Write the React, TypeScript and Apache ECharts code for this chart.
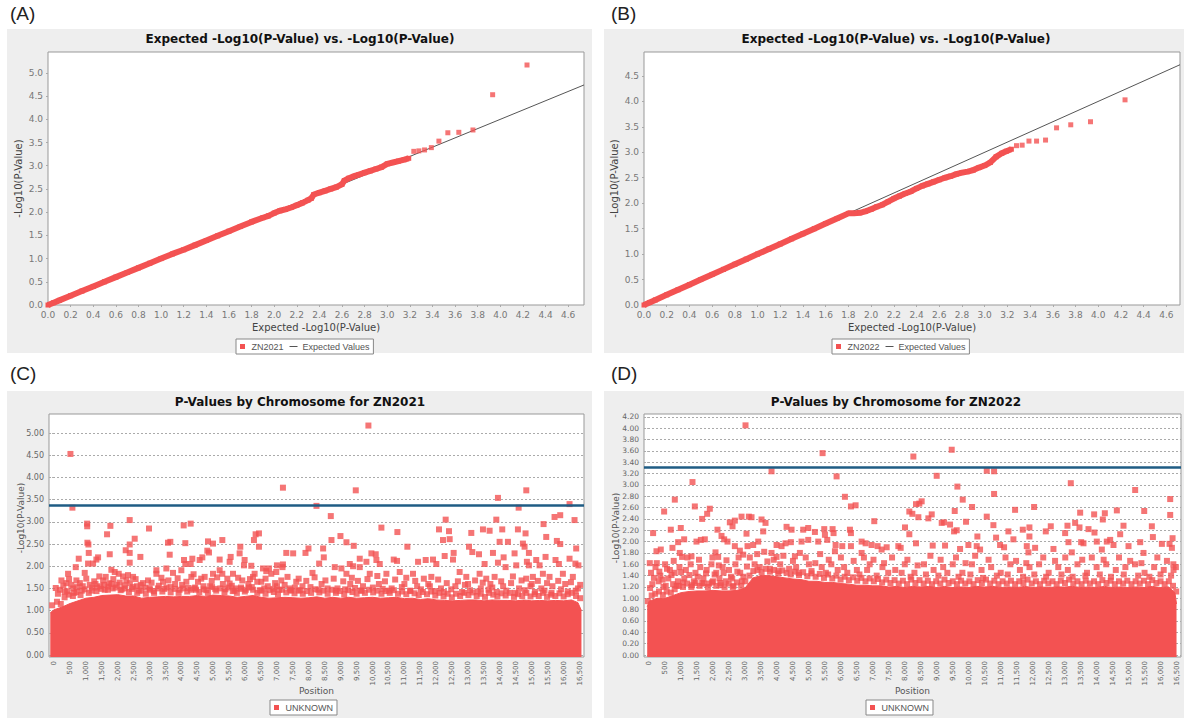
import React, { useEffect, useRef } from 'react';
import * as echarts from 'echarts';

const RED = '#f35252';
const LINE_GRAY = '#555555';
const THRESH = '#1f5c84';
const FONT = 'DejaVu Sans';
const SMALL_FONT = 'Liberation Sans';

// ---------- tick labels ----------
const qqXTicks = [0, 0.2, 0.4, 0.6, 0.8, 1.0, 1.2, 1.4, 1.6, 1.8, 2.0, 2.2, 2.4, 2.6, 2.8, 3.0, 3.2, 3.4, 3.6, 3.8, 4.0, 4.2, 4.4, 4.6];
const qqYTicksA = [0, 0.5, 1.0, 1.5, 2.0, 2.5, 3.0, 3.5, 4.0, 4.5, 5.0];
const qqYTicksB = [0, 0.5, 1.0, 1.5, 2.0, 2.5, 3.0, 3.5, 4.0, 4.5];
const posTicks = [0, 500, 1000, 1500, 2000, 2500, 3000, 3500, 4000, 4500, 5000, 5500, 6000, 6500, 7000, 7500, 8000, 8500, 9000, 9500, 10000, 10500, 11000, 11500, 12000, 12500, 13000, 13500, 14000, 14500, 15000, 15500, 16000, 16500];
const pvTicksC = [0, 0.5, 1.0, 1.5, 2.0, 2.5, 3.0, 3.5, 4.0, 4.5, 5.0];
const pvTicksD = [0, 0.2, 0.4, 0.6, 0.8, 1.0, 1.2, 1.4, 1.6, 1.8, 2.0, 2.2, 2.4, 2.6, 2.8, 3.0, 3.2, 3.4, 3.6, 3.8, 4.0, 4.2];

// ---------- QQ plot (A) ZN2021 ----------
const qqDenseA = [
  [0, 0], [0.05, 0.05], [0.1, 0.1], [0.2, 0.2], [0.3, 0.3], [0.4, 0.4], [0.5, 0.5], [0.6, 0.6], [0.7, 0.7], [0.8, 0.8],
  [0.9, 0.9], [1.0, 1.0], [1.1, 1.1], [1.2, 1.19], [1.3, 1.29], [1.4, 1.39], [1.5, 1.49], [1.6, 1.59], [1.7, 1.69], [1.8, 1.79],
  [1.9, 1.88], [1.95, 1.92], [2.0, 1.98], [2.05, 2.03], [2.1, 2.06], [2.15, 2.1], [2.2, 2.15], [2.25, 2.2], [2.3, 2.26], [2.33, 2.3],
  [2.35, 2.38], [2.4, 2.42], [2.45, 2.46], [2.5, 2.5], [2.55, 2.54], [2.6, 2.6], [2.62, 2.68], [2.66, 2.73], [2.7, 2.77], [2.75, 2.81],
  [2.8, 2.85], [2.85, 2.89], [2.9, 2.93], [2.95, 2.97], [3.0, 3.04], [3.05, 3.07], [3.1, 3.1], [3.15, 3.13], [3.19, 3.16]
];
const qqTailA = [
  [3.235, 3.31], [3.28, 3.32], [3.33, 3.34], [3.39, 3.39], [3.457, 3.53], [3.536, 3.71], [3.633, 3.72], [3.758, 3.77], [3.932, 4.53], [4.236, 5.17]
];

// ---------- QQ plot (B) ZN2022 ----------
const qqDenseB = [
  [0, 0], [0.05, 0.05], [0.1, 0.1], [0.2, 0.2], [0.3, 0.3], [0.4, 0.4], [0.5, 0.5], [0.6, 0.6], [0.7, 0.7], [0.8, 0.8],
  [0.9, 0.9], [1.0, 1.0], [1.1, 1.1], [1.2, 1.2], [1.3, 1.3], [1.4, 1.4], [1.5, 1.5], [1.6, 1.6], [1.7, 1.7], [1.8, 1.8],
  [1.85, 1.8], [1.9, 1.81], [1.95, 1.84], [2.0, 1.88], [2.05, 1.93], [2.1, 1.97], [2.15, 2.03], [2.2, 2.09], [2.25, 2.14], [2.3, 2.19],
  [2.35, 2.23], [2.4, 2.29], [2.45, 2.34], [2.5, 2.38], [2.55, 2.42], [2.6, 2.46], [2.65, 2.5], [2.7, 2.53], [2.75, 2.57], [2.8, 2.6],
  [2.85, 2.62], [2.9, 2.65], [2.95, 2.7], [3.0, 2.74], [3.05, 2.8], [3.1, 2.91], [3.15, 2.98], [3.19, 3.02], [3.235, 3.06]
];
const qqTailB = [
  [3.28, 3.13], [3.33, 3.14], [3.39, 3.22], [3.457, 3.22], [3.536, 3.24], [3.633, 3.48], [3.758, 3.54], [3.932, 3.6], [4.236, 4.03]
];

// ---------- Manhattan (C) ZN2021 ----------
const bandC = [
  [-120, 0.95], [0, 1.02], [250, 1.08], [500, 1.16], [750, 1.22], [1000, 1.28], [1250, 1.3], [1500, 1.34], [1750, 1.35], [2000, 1.36],
  [2250, 1.33], [2500, 1.33], [2750, 1.28], [3000, 1.3], [3250, 1.31], [3500, 1.32], [3750, 1.31], [4000, 1.32], [4250, 1.32], [4500, 1.34],
  [4750, 1.32], [5000, 1.35], [5250, 1.34], [5500, 1.33], [5750, 1.3], [6000, 1.32], [6250, 1.34], [6500, 1.3], [6750, 1.28], [7000, 1.29],
  [7250, 1.3], [7500, 1.29], [7750, 1.28], [8000, 1.29], [8250, 1.31], [8500, 1.28], [8750, 1.3], [9000, 1.28], [9250, 1.3], [9500, 1.28],
  [9750, 1.29], [10000, 1.3], [10250, 1.28], [10500, 1.29], [10750, 1.3], [11000, 1.27], [11250, 1.28], [11500, 1.25], [11750, 1.27], [12000, 1.24],
  [12250, 1.23], [12500, 1.22], [12750, 1.23], [13000, 1.24], [13250, 1.24], [13500, 1.22], [13750, 1.24], [14000, 1.23], [14250, 1.23], [14500, 1.22],
  [14750, 1.24], [15000, 1.22], [15250, 1.23], [15500, 1.22], [15750, 1.23], [16000, 1.22], [16250, 1.24], [16450, 1.18], [16560, 1.0]
];
const pointsC = [
  [513, 4.53], [575, 3.32], [7186, 3.77], [1036, 2.96], [1040, 2.9], [1768, 2.91], [2374, 3.04], [2981, 2.85], [4069, 2.92], [4289, 2.96],
  [1663, 2.72], [1046, 2.53], [1077, 2.49], [2374, 2.49], [2531, 2.62], [3577, 2.53], [3650, 2.55], [4121, 2.52], [4833, 2.56], [4990, 2.51],
  [5283, 2.59], [5847, 2.44], [6276, 2.59], [6328, 2.72], [6433, 2.74], [6433, 2.44], [7291, 2.3], [1088, 2.3], [1747, 2.27], [2249, 2.36],
  [2374, 2.3], [2374, 2.08], [2709, 2.21], [3630, 2.26], [4079, 2.14], [4121, 2.05], [4289, 2.05], [4341, 2.17], [4571, 2.14], [4655, 2.2],
  [4864, 2.31], [4812, 2.35], [5199, 2.15], [5513, 2.1], [5545, 2.21], [5826, 2.29], [5983, 2.14], [5962, 2.02], [6192, 2.01], [6559, 1.95],
  [6663, 1.89], [6747, 1.95], [6998, 2.02], [7186, 2.04], [774, 2.17], [1067, 2.06], [1224, 2.06], [1328, 2.15], [1381, 2.2], [680, 1.98],
  [439, 1.83], [962, 1.85], [1798, 1.92], [1904, 1.87], [2030, 1.83], [2165, 1.77], [2322, 1.8], [2479, 1.76], [2950, 1.68], [3212, 1.83],
  [3212, 1.91], [3525, 1.95], [3734, 1.85], [3996, 1.91], [4310, 1.76], [4728, 1.76], [4990, 1.83], [5199, 1.91], [5283, 1.83], [5618, 1.83],
  [6245, 1.76], [6297, 1.83], [6820, 1.83], [6977, 1.87], [52, 1.51], [387, 1.62], [335, 1.42], [230, 1.68], [701, 1.68], [1538, 1.68],
  [1621, 1.76], [2270, 1.68], [2793, 1.62], [3420, 1.65], [4153, 1.65], [4519, 1.65], [5513, 1.61], [5910, 1.68], [6506, 1.65], [7134, 1.68],
  [7604, 1.65], [9870, 5.17], [9473, 3.71], [8239, 3.36], [8689, 3.13], [10278, 2.87], [10780, 2.77], [11093, 2.44], [8992, 2.68], [9180, 2.54],
  [9410, 2.46], [9598, 2.17], [9964, 2.29], [10100, 2.27], [8448, 2.4], [8469, 2.2], [8710, 2.59], [7988, 2.4], [8323, 2.06], [7894, 2.3],
  [7507, 2.29], [7173, 1.98], [13938, 3.54], [14828, 3.71], [14588, 3.32], [16186, 3.4], [13886, 3.05], [12296, 3.05], [12401, 2.79], [12422, 2.61],
  [12212, 2.59], [12087, 2.83], [13101, 2.75], [13467, 2.83], [13676, 2.8], [14073, 2.83], [14565, 2.83], [14805, 2.74], [14722, 2.51], [14774, 2.44],
  [14910, 2.3], [15370, 2.95], [15454, 2.66], [15715, 3.11], [15893, 3.15], [16343, 3.04], [15788, 2.57], [15893, 2.5], [16395, 2.4], [13990, 2.55],
  [14251, 2.55], [13028, 2.44], [13133, 2.32], [13781, 2.3], [12547, 2.3], [12526, 2.15], [12265, 2.23], [11899, 2.15], [12003, 2.05], [11669, 2.14],
  [11429, 2.1], [10665, 2.15], [10769, 2.12], [10121, 2.14], [10226, 2.05], [9807, 2.1], [9598, 1.98], [9285, 2.05], [9389, 2.0], [9023, 1.95],
  [8814, 1.98], [8114, 1.85], [13342, 2.27], [13519, 2.05], [13938, 2.08], [14116, 2.2], [14178, 1.98], [14460, 2.29], [14513, 2.02], [14847, 2.1],
  [14910, 2.02], [15140, 2.14], [15245, 2.02], [15433, 2.21], [15746, 2.14], [15851, 2.05], [16186, 2.17], [16370, 2.06], [16464, 2.02], [13362, 1.83],
  [13571, 1.72], [13833, 1.76], [14408, 1.77], [14826, 1.72], [15035, 1.76], [15349, 1.83], [15558, 1.76], [15977, 1.83], [16290, 1.76], [11846, 1.76],
  [11270, 1.83], [10853, 1.87], [10435, 1.83], [9912, 1.83], [9180, 1.83], [12735, 1.87], [12944, 1.76], [7800, 1.55], [8400, 1.6], [8900, 1.5],
  [9300, 1.6], [9700, 1.55], [10200, 1.6], [10600, 1.5], [11000, 1.6], [11400, 1.55], [11750, 1.6], [12150, 1.5], [12600, 1.55], [13000, 1.6],
  [13400, 1.5], [13700, 1.6], [14100, 1.55], [14600, 1.5], [15000, 1.6], [15300, 1.5], [15650, 1.55], [16050, 1.6], [16450, 1.5], [600, 1.5],
  [900, 1.55], [1300, 1.6], [1800, 1.6], [2600, 1.55], [3000, 1.5], [3800, 1.6], [4400, 1.5], [4900, 1.55], [5300, 1.6], [5700, 1.5],
  [6100, 1.6], [6600, 1.5], [7000, 1.55], [7400, 1.5]
];
const edgePointsC = [
  [120, 1.38], [180, 1.47], [290, 1.56], [410, 1.44], [470, 1.71], [540, 1.58], [630, 1.4], [720, 1.53], [810, 1.62], [870, 1.45],
  [1010, 1.72], [1120, 1.58], [1180, 1.45], [1260, 1.66], [1350, 1.52], [1420, 1.77], [1480, 1.49], [1570, 1.58], [1690, 1.47], [1730, 1.62],
  [1860, 1.71], [1930, 1.52], [2060, 1.63], [2120, 1.48], [2210, 1.57], [2380, 1.62], [2440, 1.49], [2560, 1.71], [2660, 1.45], [2720, 1.58],
  [2870, 1.52], [3060, 1.63], [3130, 1.44], [3290, 1.56], [3370, 1.74], [3460, 1.49], [3590, 1.68], [3660, 1.53], [3880, 1.73], [3940, 1.47],
  [4020, 1.58], [4210, 1.51], [4380, 1.82], [4460, 1.47], [4620, 1.72], [4690, 1.55], [4780, 1.46], [4950, 1.67], [5060, 1.49], [5120, 1.75],
  [5380, 1.48], [5440, 1.72], [5580, 1.56], [5660, 1.45], [5780, 1.74], [5870, 1.52], [6020, 1.47], [6150, 1.71], [6210, 1.53], [6380, 1.65],
  [6460, 1.46], [6640, 1.72], [6710, 1.55], [6880, 1.49], [6940, 1.62], [7060, 1.47], [7240, 1.58], [7330, 1.76], [7450, 1.45], [7560, 1.52],
  [7680, 1.72], [7740, 1.46], [7920, 1.67], [8050, 1.53], [8180, 1.75], [8300, 1.47], [8520, 1.68], [8590, 1.5], [8780, 1.72], [8850, 1.45],
  [9080, 1.66], [9140, 1.48], [9350, 1.74], [9450, 1.51], [9540, 1.67], [9660, 1.45], [9840, 1.71], [10010, 1.52], [10150, 1.78], [10320, 1.49],
  [10390, 1.66], [10520, 1.45], [10710, 1.7], [10920, 1.53], [11060, 1.74], [11180, 1.45], [11340, 1.67], [11520, 1.48], [11610, 1.72], [11800, 1.55],
  [11960, 1.44], [12060, 1.7], [12240, 1.42], [12330, 1.62], [12470, 1.48], [12680, 1.66], [12810, 1.42], [12900, 1.58], [13060, 1.46], [13220, 1.68],
  [13300, 1.43], [13460, 1.63], [13640, 1.47], [13760, 1.52], [13900, 1.42], [14040, 1.66], [14200, 1.45], [14350, 1.62], [14480, 1.4], [14680, 1.68],
  [14780, 1.46], [14960, 1.55], [15100, 1.42], [15190, 1.67], [15400, 1.45], [15480, 1.62], [15620, 1.4], [15830, 1.67], [15920, 1.48], [16130, 1.43],
  [16230, 1.64], [16380, 1.45], [16520, 1.58]
];
const rimPointsC = [
  [-60, 1.12], [90, 1.2], [210, 1.15], [330, 1.3], [460, 1.36], [590, 1.33], [700, 1.42], [830, 1.35], [960, 1.48], [1090, 1.4],
  [1200, 1.52], [1330, 1.44], [1450, 1.55], [1590, 1.47], [1700, 1.54], [1840, 1.5], [1970, 1.58], [2090, 1.46], [2230, 1.5], [2350, 1.42],
  [2480, 1.53], [2610, 1.4], [2740, 1.45], [2880, 1.38], [3010, 1.47], [3140, 1.4], [3260, 1.5], [3400, 1.43], [3530, 1.52], [3660, 1.41],
  [3790, 1.49], [3910, 1.4], [4050, 1.5], [4180, 1.43], [4300, 1.47], [4430, 1.52], [4560, 1.42], [4700, 1.48], [4830, 1.4], [4960, 1.53],
  [5090, 1.45], [5220, 1.5], [5350, 1.42], [5480, 1.52], [5610, 1.44], [5740, 1.4], [5860, 1.49], [5990, 1.43], [6120, 1.52], [6250, 1.47],
  [6380, 1.4], [6510, 1.45], [6640, 1.38], [6770, 1.46], [6900, 1.42], [7030, 1.37], [7160, 1.47], [7290, 1.41], [7420, 1.46], [7550, 1.39],
  [7680, 1.45], [7810, 1.38], [7940, 1.44], [8070, 1.4], [8200, 1.48], [8330, 1.41], [8460, 1.45], [8590, 1.38], [8720, 1.47], [8850, 1.4],
  [8980, 1.44], [9110, 1.37], [9240, 1.46], [9370, 1.42], [9500, 1.38], [9630, 1.45], [9760, 1.4], [9890, 1.47], [10020, 1.41], [10150, 1.45],
  [10280, 1.38], [10410, 1.44], [10540, 1.4], [10670, 1.46], [10800, 1.38], [10930, 1.43], [11060, 1.37], [11190, 1.44], [11320, 1.39], [11450, 1.35],
  [11580, 1.42], [11710, 1.37], [11840, 1.43], [11970, 1.34], [12100, 1.4], [12230, 1.32], [12360, 1.38], [12490, 1.3], [12620, 1.38], [12750, 1.33],
  [12880, 1.4], [13010, 1.35], [13140, 1.41], [13270, 1.33], [13400, 1.38], [13530, 1.31], [13660, 1.4], [13790, 1.36], [13920, 1.32], [14050, 1.39],
  [14180, 1.34], [14310, 1.4], [14440, 1.31], [14570, 1.37], [14700, 1.33], [14830, 1.4], [14960, 1.32], [15090, 1.37], [15220, 1.33], [15350, 1.4],
  [15480, 1.31], [15610, 1.36], [15740, 1.33], [15870, 1.39], [16000, 1.32], [16130, 1.37], [16260, 1.4], [16390, 1.33], [16520, 1.28]
];
const thresholdC = 3.37;

// ---------- Manhattan (D) ZN2022 ----------
const bandD = [
  [-60, 0.85], [0, 0.95], [250, 1.0], [500, 1.0], [750, 1.05], [1000, 1.1], [1250, 1.12], [1500, 1.13], [1750, 1.13], [2000, 1.14],
  [2250, 1.13], [2500, 1.13], [2750, 1.14], [3000, 1.18], [3250, 1.36], [3500, 1.4], [3750, 1.4], [4000, 1.38], [4250, 1.36], [4500, 1.34],
  [4750, 1.33], [5000, 1.3], [5250, 1.3], [5500, 1.28], [5750, 1.28], [6000, 1.26], [6250, 1.25], [6500, 1.23], [6750, 1.23], [7000, 1.22],
  [7250, 1.22], [7500, 1.2], [7750, 1.21], [8000, 1.19], [8250, 1.21], [8500, 1.2], [8750, 1.21], [9000, 1.19], [9250, 1.21], [9500, 1.19],
  [9750, 1.2], [10000, 1.19], [10250, 1.21], [10500, 1.2], [10750, 1.21], [11000, 1.19], [11250, 1.2], [11500, 1.19], [11750, 1.21], [12000, 1.19],
  [12250, 1.2], [12500, 1.19], [12750, 1.2], [13000, 1.2], [13250, 1.21], [13500, 1.19], [13750, 1.2], [14000, 1.19], [14250, 1.21], [14500, 1.19],
  [14750, 1.2], [15000, 1.19], [15250, 1.2], [15500, 1.19], [15750, 1.21], [16000, 1.19], [16250, 1.2], [16450, 1.1], [16500, 0.9]
];
const pointsD = [
  [3016, 4.05], [5427, 3.56], [3830, 3.24], [5865, 3.15], [1357, 3.05], [6126, 2.79], [804, 2.74], [470, 2.53], [6314, 2.62], [6460, 2.64],
  [1430, 2.62], [7044, 2.36], [678, 2.21], [991, 2.24], [1659, 2.4], [1816, 2.49], [1899, 2.58], [2525, 2.34], [2609, 2.27], [2682, 2.37],
  [2891, 2.44], [3121, 2.44], [3204, 2.43], [3047, 2.14], [3517, 2.39], [3642, 2.33], [3569, 2.18], [4300, 2.26], [4456, 2.21], [4821, 2.21],
  [4978, 2.24], [5187, 2.17], [5479, 2.22], [5500, 2.12], [5740, 2.22], [5771, 2.15], [6283, 2.21], [6314, 2.15], [2139, 2.21], [2265, 2.1],
  [2348, 2.04], [2452, 2.0], [125, 2.15], [1096, 2.04], [908, 1.99], [1482, 2.0], [1618, 2.03], [1743, 2.04], [730, 1.89], [230, 1.83],
  [365, 1.86], [21, 1.62], [4978, 2.03], [4769, 2.0], [5291, 2.0], [5573, 2.03], [5834, 1.94], [6043, 1.92], [6314, 1.92], [6648, 2.0],
  [6773, 1.97], [6961, 1.94], [7149, 1.92], [7274, 1.86], [3987, 1.94], [4143, 1.92], [4268, 1.97], [4435, 1.99], [3079, 1.92], [3256, 1.94],
  [3413, 2.0], [2682, 1.92], [2839, 1.84], [2943, 1.77], [3830, 1.8], [3987, 1.73], [4561, 1.74], [4717, 1.8], [5813, 1.83], [6648, 1.8],
  [960, 1.8], [1033, 1.73], [1325, 1.74], [2077, 1.81], [2160, 1.73], [9467, 3.62], [8267, 3.5], [10563, 3.25], [10792, 3.24], [8997, 3.16],
  [9644, 2.97], [13192, 3.03], [15206, 2.91], [10792, 2.84], [9811, 2.74], [16302, 2.75], [8350, 2.66], [8454, 2.67], [8527, 2.71], [10103, 2.61],
  [11449, 2.56], [12044, 2.61], [8141, 2.53], [8235, 2.49], [8423, 2.43], [8736, 2.41], [8841, 2.48], [9561, 2.54], [9915, 2.35], [10563, 2.44],
  [10771, 2.29], [13485, 2.51], [13923, 2.48], [14257, 2.5], [14194, 2.39], [14633, 2.55], [15489, 2.54], [16302, 2.47], [8006, 2.25], [8141, 2.13],
  [9154, 2.33], [9227, 2.34], [9415, 2.3], [9540, 2.18], [9623, 2.2], [10855, 2.07], [10270, 2.09], [11241, 2.18], [11397, 2.04], [11690, 2.21],
  [11898, 2.25], [11898, 2.09], [12410, 2.18], [12566, 2.27], [13015, 2.15], [13088, 2.28], [13328, 2.33], [13464, 2.25], [13746, 2.22], [13933, 2.16],
  [14319, 2.0], [14424, 2.03], [14737, 2.13], [14841, 2.28], [15363, 1.99], [15467, 1.8], [15728, 2.27], [15760, 2.08], [16042, 1.96], [16282, 1.96],
  [16355, 1.89], [16376, 2.06], [13119, 1.99], [13224, 1.81], [12650, 1.87], [12076, 1.89], [11815, 1.92], [11867, 1.81], [10980, 1.94], [11105, 1.9],
  [10249, 1.92], [10354, 1.86], [9989, 1.94], [9728, 1.87], [9258, 1.93], [8872, 1.93], [8350, 1.97], [7797, 1.92], [7870, 1.89], [7432, 1.9],
  [13516, 1.99], [13589, 1.97], [14006, 2.0], [14163, 1.86], [14528, 1.94], [14998, 1.92], [16407, 1.5], [60, 1.45], [200, 1.55], [350, 1.4],
  [500, 1.6], [650, 1.5], [800, 1.45], [950, 1.55], [1150, 1.5], [1300, 1.6], [1450, 1.45], [1600, 1.55], [1800, 1.5], [1950, 1.6],
  [2100, 1.45], [2300, 1.55], [2500, 1.5], [2700, 1.6], [2850, 1.45], [3300, 1.6], [3700, 1.65], [4100, 1.6], [4600, 1.55], [5000, 1.6],
  [5400, 1.55], [5700, 1.6], [6100, 1.55], [6500, 1.5], [6900, 1.6], [7300, 1.55], [7700, 1.5], [8000, 1.6], [8300, 1.45], [8600, 1.6],
  [8900, 1.5], [9200, 1.55], [9500, 1.6], [9800, 1.45], [10100, 1.6], [10400, 1.5], [10700, 1.55], [11000, 1.45], [11300, 1.6], [11600, 1.5],
  [11900, 1.55], [12200, 1.6], [12500, 1.45], [12800, 1.55], [13100, 1.5], [13400, 1.6], [13700, 1.45], [14000, 1.55], [14300, 1.6], [14600, 1.5],
  [14900, 1.55], [15200, 1.6], [15500, 1.45], [15800, 1.55], [16100, 1.5], [16400, 1.6], [100, 1.25], [300, 1.3], [450, 1.2], [600, 1.35],
  [750, 1.25], [900, 1.3], [1100, 1.35], [1400, 1.3], [1700, 1.35], [2000, 1.3], [2200, 1.35], [2400, 1.3], [2600, 1.35], [2900, 1.3]
];
const edgePointsD = [
  [30, 1.18], [150, 1.36], [240, 1.62], [320, 1.47], [420, 1.33], [520, 1.22], [560, 1.52], [700, 1.41], [770, 1.66], [860, 1.22],
  [1000, 1.46], [1060, 1.28], [1200, 1.72], [1260, 1.41], [1340, 1.23], [1520, 1.38], [1560, 1.68], [1660, 1.27], [1780, 1.44], [1880, 1.26],
  [1980, 1.72], [2050, 1.42], [2180, 1.58], [2240, 1.23], [2330, 1.45], [2420, 1.67], [2560, 1.38], [2640, 1.22], [2760, 1.47], [2800, 1.72],
  [2950, 1.38], [3060, 1.56], [3150, 1.72], [3380, 1.78], [3460, 1.55], [3600, 1.82], [3780, 1.52], [3900, 1.68], [4050, 1.48], [4200, 1.75],
  [4380, 1.52], [4500, 1.66], [4680, 1.45], [4900, 1.72], [5080, 1.48], [5200, 1.62], [5350, 1.78], [5530, 1.45], [5620, 1.68], [5900, 1.5],
  [6000, 1.72], [6200, 1.45], [6400, 1.66], [6580, 1.42], [6720, 1.72], [6820, 1.5], [7020, 1.68], [7120, 1.4], [7350, 1.62], [7480, 1.45],
  [7600, 1.72], [7900, 1.45], [8080, 1.68], [8180, 1.38], [8400, 1.58], [8660, 1.42], [8800, 1.75], [9050, 1.4], [9120, 1.68], [9330, 1.45],
  [9600, 1.72], [9680, 1.38], [9900, 1.62], [10050, 1.42], [10200, 1.75], [10450, 1.36], [10620, 1.68], [10880, 1.4], [11150, 1.72], [11220, 1.42],
  [11480, 1.66], [11700, 1.38], [11800, 1.62], [12050, 1.42], [12330, 1.72], [12420, 1.38], [12700, 1.66], [12900, 1.42], [13020, 1.72], [13250, 1.38],
  [13550, 1.68], [13650, 1.4], [13850, 1.72], [14100, 1.42], [14220, 1.68], [14450, 1.38], [14700, 1.72], [14850, 1.42], [15050, 1.66], [15300, 1.4],
  [15400, 1.62], [15650, 1.38], [15900, 1.72], [16000, 1.42], [16200, 1.66], [16330, 1.4], [16480, 1.55]
];
const rimPointsD = [
  [-40, 0.95], [80, 1.05], [190, 1.08], [310, 1.12], [430, 1.06], [550, 1.12], [680, 1.1], [800, 1.16], [930, 1.22], [1060, 1.2],
  [1190, 1.26], [1320, 1.2], [1450, 1.27], [1580, 1.22], [1710, 1.26], [1840, 1.2], [1970, 1.28], [2100, 1.22], [2230, 1.27], [2360, 1.2],
  [2490, 1.26], [2620, 1.2], [2750, 1.28], [2880, 1.22], [3010, 1.3], [3140, 1.4], [3260, 1.48], [3390, 1.5], [3520, 1.46], [3650, 1.52],
  [3780, 1.47], [3910, 1.5], [4040, 1.44], [4170, 1.49], [4300, 1.45], [4430, 1.42], [4560, 1.47], [4690, 1.41], [4820, 1.46], [4950, 1.39],
  [5080, 1.44], [5210, 1.38], [5340, 1.43], [5470, 1.36], [5600, 1.42], [5730, 1.35], [5860, 1.4], [5990, 1.33], [6120, 1.38], [6250, 1.32],
  [6380, 1.37], [6510, 1.31], [6640, 1.36], [6770, 1.3], [6900, 1.35], [7030, 1.3], [7160, 1.34], [7290, 1.28], [7420, 1.33], [7550, 1.27],
  [7680, 1.32], [7810, 1.26], [7940, 1.31], [8070, 1.25], [8200, 1.33], [8330, 1.27], [8460, 1.32], [8590, 1.26], [8720, 1.31], [8850, 1.25],
  [8980, 1.3], [9110, 1.26], [9240, 1.33], [9370, 1.27], [9500, 1.3], [9630, 1.25], [9760, 1.31], [9890, 1.26], [10020, 1.3], [10150, 1.25],
  [10280, 1.32], [10410, 1.27], [10540, 1.33], [10670, 1.26], [10800, 1.31], [10930, 1.25], [11060, 1.3], [11190, 1.26], [11320, 1.31], [11450, 1.25],
  [11580, 1.3], [11710, 1.27], [11840, 1.33], [11970, 1.26], [12100, 1.3], [12230, 1.25], [12360, 1.31], [12490, 1.26], [12620, 1.3], [12750, 1.25],
  [12880, 1.31], [13010, 1.27], [13140, 1.33], [13270, 1.26], [13400, 1.3], [13530, 1.25], [13660, 1.31], [13790, 1.26], [13920, 1.3], [14050, 1.25],
  [14180, 1.32], [14310, 1.27], [14440, 1.31], [14570, 1.25], [14700, 1.3], [14830, 1.26], [14960, 1.31], [15090, 1.25], [15220, 1.3], [15350, 1.26],
  [15480, 1.31], [15610, 1.25], [15740, 1.32], [15870, 1.27], [16000, 1.3], [16130, 1.25], [16260, 1.3], [16390, 1.22], [16490, 1.12]
];
const thresholdD = 3.31;

// ---------- layout ----------
const panels = [
  { left: 7, top: 29, width: 585, height: 324 },
  { left: 604, top: 29, width: 580, height: 324 },
  { left: 7, top: 391, width: 585, height: 327 },
  { left: 604, top: 391, width: 580, height: 327 }
];

const SQ = 'path://M0,0H6V6H0Z';
const LN = 'path://M0,0H8V1H0Z';

function qqX(gridIndex: number, max: number) {
  return {
    gridIndex, type: 'value', min: 0, max,
    axisLine: { show: false }, splitLine: { show: false },
    axisTick: { show: true, customValues: qqXTicks, length: 2, lineStyle: { color: '#aaa' } },
    axisLabel: { customValues: qqXTicks, formatter: (v: number) => v.toFixed(1), fontSize: 9, color: '#777', margin: 5, fontFamily: FONT },
    name: 'Expected -Log10(P-Value)', nameLocation: 'middle', nameGap: 17, nameMoveOverlap: false,
    nameTextStyle: { fontSize: 10, color: '#444', fontFamily: FONT }
  };
}
function qqY(gridIndex: number, max: number, ticks: number[]) {
  return {
    gridIndex, type: 'value', min: 0, max,
    axisLine: { show: false }, splitLine: { show: false },
    axisTick: { show: true, customValues: ticks, length: 2, lineStyle: { color: '#aaa' } },
    axisLabel: { customValues: ticks, formatter: (v: number) => v.toFixed(1), fontSize: 9, color: '#777', margin: 5, fontFamily: FONT },
    name: '-Log10(P-Value)', nameLocation: 'middle', nameGap: 25, nameMoveOverlap: false,
    nameTextStyle: { fontSize: 10, color: '#444', fontFamily: FONT }
  };
}
function posX(gridIndex: number) {
  return {
    gridIndex, type: 'value', min: -160, max: 16640,
    axisLine: { show: false }, splitLine: { show: false },
    axisTick: { show: true, customValues: posTicks, length: 2, lineStyle: { color: '#aaa' } },
    axisLabel: {
      customValues: posTicks, rotate: 90, fontSize: 7, color: '#666', margin: 4, fontFamily: FONT,
      formatter: (v: number) => v.toLocaleString('en-US')
    },
    name: 'Position', nameLocation: 'middle', nameGap: 29, nameMoveOverlap: false,
    nameTextStyle: { fontSize: 9, color: '#555', fontFamily: FONT }
  };
}
function pvY(gridIndex: number, min: number, max: number, ticks: number[], fs: number) {
  return {
    gridIndex, type: 'value', min, max,
    axisLine: { show: false },
    splitLine: { show: true, lineStyle: { color: '#aaa', type: [2, 2], width: 1 } },
    axisTick: { show: true, customValues: ticks, length: 2, lineStyle: { color: '#aaa' } },
    axisLabel: { customValues: ticks, formatter: (v: number) => v.toFixed(2), fontSize: fs, color: '#666', margin: 5, fontFamily: FONT }
  };
}

function qqSeries(ax: number, name: string, dense: number[][], tail: number[][], max: number) {
  return [
    {
      type: 'line', name: 'Expected Values', xAxisIndex: ax, yAxisIndex: ax,
      data: [[0, 0], [max, max]], symbol: 'none', z: 1, silent: true,
      lineStyle: { color: LINE_GRAY, width: 1 }, itemStyle: { color: LINE_GRAY }
    },
    {
      type: 'line', name, xAxisIndex: ax, yAxisIndex: ax, data: dense, z: 3, silent: true,
      symbol: 'rect', symbolSize: 5, showSymbol: true,
      lineStyle: { color: RED, width: 6 }, itemStyle: { color: RED }
    },
    {
      type: 'scatter', name, xAxisIndex: ax, yAxisIndex: ax, data: tail, z: 3, silent: true,
      symbol: 'rect', symbolSize: 5, itemStyle: { color: RED }
    }
  ];
}

function dots(ax: number, data: number[][]) {
  return {
    type: 'scatter', name: 'UNKNOWN', xAxisIndex: ax, yAxisIndex: ax, data, z: 3, silent: true,
    symbol: 'rect', symbolSize: 6, itemStyle: { color: RED }
  };
}

function pvSeries(ax: number, band: number[][], pts: number[][], edge: number[][], rim: number[][], thr: number) {
  return [
    {
      type: 'line', name: 'UNKNOWN', xAxisIndex: ax, yAxisIndex: ax, data: band, z: 2, silent: true,
      symbol: 'none', lineStyle: { color: RED, width: 1 }, itemStyle: { color: RED },
      areaStyle: { color: RED, opacity: 1, origin: 'start' }
    },
    dots(ax, rim),
    dots(ax, edge),
    {
      ...dots(ax, pts),
      markLine: {
        silent: true, symbol: 'none', label: { show: false },
        lineStyle: { color: THRESH, width: 2.5, type: 'solid' },
        data: [{ yAxis: thr }]
      }
    }
  ];
}

const legendCommon = {
  orient: 'horizontal', itemWidth: 8, itemHeight: 5, itemGap: 6, padding: [3, 4, 3, 4],
  borderColor: '#888', borderWidth: 1, borderRadius: 0, backgroundColor: '#fff', selectedMode: false,
  textStyle: { fontSize: 9, color: '#555', fontFamily: SMALL_FONT }
};

function txt(text: string, x: number, y: number, extra: any) {
  return { type: 'text', x, y, silent: true, style: { text, fill: '#222', fontFamily: FONT, ...extra } };
}

const titleStyle = { fontSize: 12, fontWeight: 'bold', align: 'center', verticalAlign: 'middle', fill: '#111' };

const option: any = {
  animation: false,
  backgroundColor: 'transparent',
  grid: [
    { left: 48, top: 52, width: 536, height: 253 },
    { left: 644, top: 52, width: 536, height: 253 },
    { left: 49, top: 414, width: 535, height: 243 },
    { left: 644, top: 414, width: 537, height: 243 }
  ].map((g) => ({ ...g, show: true, backgroundColor: '#ffffff', borderColor: '#999', borderWidth: 1, containLabel: false, outerBoundsMode: 'none' })),
  xAxis: [qqX(0, 4.74), qqX(1, 4.72), posX(2), posX(3)],
  yAxis: [
    qqY(0, 5.45, qqYTicksA),
    qqY(1, 4.97, qqYTicksB),
    pvY(2, -0.045, 5.43, pvTicksC, 8),
    pvY(3, -0.035, 4.25, pvTicksD, 7.5)
  ],
  legend: [
    { ...legendCommon, left: 236, top: 339, data: [{ name: 'ZN2021', icon: SQ }, { name: 'Expected Values', icon: LN }] },
    { ...legendCommon, left: 832, top: 339, data: [{ name: 'ZN2022', icon: SQ }, { name: 'Expected Values', icon: LN }] },
    { ...legendCommon, left: 270, top: 700, data: [{ name: 'UNKNOWN', icon: SQ }] },
    { ...legendCommon, left: 866, top: 700, data: [{ name: 'UNKNOWN', icon: SQ }] }
  ],
  graphic: [
    txt('(A)', 10, 4, { fontSize: 19, fontFamily: SMALL_FONT }),
    txt('(B)', 611, 4, { fontSize: 19, fontFamily: SMALL_FONT }),
    txt('(C)', 10, 364, { fontSize: 19, fontFamily: SMALL_FONT }),
    txt('(D)', 611, 364, { fontSize: 19, fontFamily: SMALL_FONT }),
    txt('Expected -Log10(P-Value) vs. -Log10(P-Value)', 300, 39, titleStyle),
    txt('Expected -Log10(P-Value) vs. -Log10(P-Value)', 896, 39, titleStyle),
    txt('P-Values by Chromosome for ZN2021', 300, 402, titleStyle),
    txt('P-Values by Chromosome for ZN2022', 896, 402, titleStyle),
    { ...txt('-Log10(P-Value)', 21, 518, { fontSize: 9, align: 'center', verticalAlign: 'middle', fill: '#555' }), rotation: Math.PI / 2 },
    { ...txt('-Log10(P-Value)', 616, 528, { fontSize: 9, align: 'center', verticalAlign: 'middle', fill: '#555' }), rotation: Math.PI / 2 }
  ],
  series: [
    ...qqSeries(0, 'ZN2021', qqDenseA, qqTailA, 4.74),
    ...qqSeries(1, 'ZN2022', qqDenseB, qqTailB, 4.72),
    ...pvSeries(2, bandC, pointsC, edgePointsC, rimPointsC, thresholdC),
    ...pvSeries(3, bandD, pointsD, edgePointsD, rimPointsD, thresholdD)
  ]
};

export default function App() {
  const ref = useRef<HTMLDivElement>(null);
  useEffect(() => {
    const chart = echarts.init(ref.current as HTMLDivElement, null, { renderer: 'svg' });
    chart.setOption(option);
    return () => chart.dispose();
  }, []);
  return (
    <div style={{ position: 'absolute', left: 0, top: 0, width: 1184, height: 722, background: '#ffffff', overflow: 'hidden' }}>
      {panels.map((p, i) => (
        <div key={i} style={{ position: 'absolute', left: p.left, top: p.top, width: p.width, height: p.height, background: '#eeeeee' }} />
      ))}
      <div ref={ref} style={{ position: 'absolute', left: 0, top: 0, width: 1184, height: 722 }} />
    </div>
  );
}
